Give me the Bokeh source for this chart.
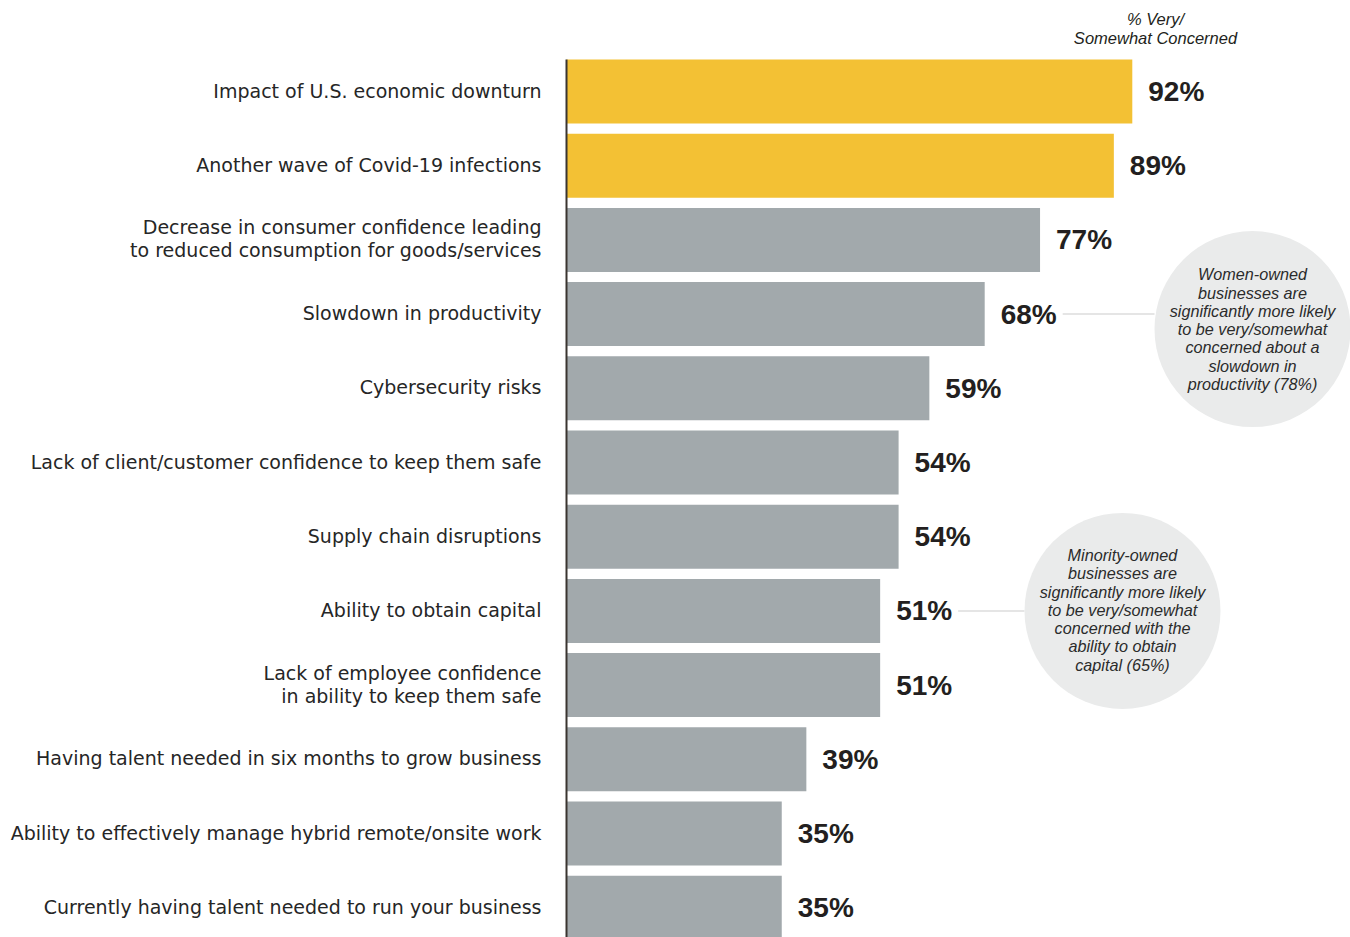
from bokeh.plotting import figure
from bokeh.models import Range1d, ColumnDataSource
from bokeh.core.properties import value
from bokeh.embed import file_html
from bokeh.resources import INLINE

categories = [
    "Impact of U.S. economic downturn",
    "Another wave of Covid-19 infections",
    "Decrease in consumer confidence leading\nto reduced consumption for goods/services",
    "Slowdown in productivity",
    "Cybersecurity risks",
    "Lack of client/customer confidence to keep them safe",
    "Supply chain disruptions",
    "Ability to obtain capital",
    "Lack of employee confidence\nin ability to keep them safe",
    "Having talent needed in six months to grow business",
    "Ability to effectively manage hybrid remote/onsite work",
    "Currently having talent needed to run your business",
]
values = [92, 89, 77, 68, 59, 54, 54, 51, 51, 39, 35, 35]
highlight = [True, True] + [False] * 10
value_labels = [f"{v}%" for v in values]

header = "% Very/\nSomewhat Concerned"
note1 = ("Women-owned\nbusinesses are\nsignificantly more likely\nto be very/somewhat\n"
         "concerned about a\nslowdown in\nproductivity (78%)")
note2 = ("Minority-owned\nbusinesses are\nsignificantly more likely\nto be very/somewhat\n"
         "concerned with the\nability to obtain\ncapital (65%)")
note1_bar = 3
note2_bar = 7

YELLOW = "#F3C134"
GRAY = "#A2A9AC"
TEXT = "#231F20"
CIRCLE = "#EAEBEB"
FONT = "Liberation Sans"
LABEL_FONT = "DejaVu Sans"

W, H = 1350, 937
AXIS_PX = 566
PX = 6.15         # pixels per percentage point
ROW = 74.2        # pixels per row
TOP = 91          # pixel centre of first row

p = figure(width=W, height=H, output_backend="svg", toolbar_location=None,
           min_border=0)
p.x_range = Range1d(-AXIS_PX / PX, (W - AXIS_PX) / PX)
p.y_range = Range1d((H - TOP) / ROW, -TOP / ROW)
p.xaxis.visible = False
p.yaxis.visible = False
p.grid.visible = False
p.outline_line_color = None
p.background_fill_color = "white"
p.border_fill_color = "white"

ys = list(range(len(categories)))
src = ColumnDataSource(dict(
    y=ys, v=values, cat=categories, lab=value_labels,
    color=[YELLOW if h else GRAY for h in highlight],
))

p.hbar(y="y", left=0, right="v", height=64 / ROW, color="color",
       line_color=None, source=src)

# vertical axis line
p.segment(x0=[0], y0=[-32 / ROW], x1=[0], y1=[(H - TOP + 5) / ROW],
          line_color="#3A3530", line_width=2)

# category labels
p.text(x=0, y="y", text="cat", source=src, x_offset=-25, y_offset=-1,
       text_align="right", text_baseline="middle",
       text_font=value(LABEL_FONT), text_font_size="19px", text_color="#262626",
       text_line_height=1.04)

# value labels
p.text(x="v", y="y", text="lab", source=src, x_offset=16, y_offset=0,
       text_align="left", text_baseline="middle",
       text_font=value(FONT), text_font_size="28px", text_font_style="bold",
       text_color=TEXT)

# header
p.text(x=[(1155 - AXIS_PX) / PX], y=[-TOP / ROW], text=[header], y_offset=9,
       text_align="center", text_baseline="top", text_font=value(FONT),
       text_font_size="16.5px", text_font_style="italic", text_color=TEXT,
       text_line_height=1.06)

# annotation 1
c1x = (1252 - AXIS_PX) / PX
c2x = (1122 - AXIS_PX) / PX
R = 98
GAP = 78
p.segment(x0=[values[note1_bar] + GAP / PX], y0=[note1_bar],
          x1=[c1x - R / PX], y1=[note1_bar], line_color="#DDDDDD", line_width=1.5)
p.scatter(x=[c1x], y=[note1_bar + 15 / ROW], size=2 * R, marker="circle",
          fill_color=CIRCLE, line_color=None)
p.text(x=[c1x], y=[note1_bar + 15 / ROW], text=[note1], y_offset=0,
       text_align="center", text_baseline="middle", text_font=value(FONT),
       text_font_size="16.2px", text_font_style="italic", text_color="#2B2B2B",
       text_line_height=1.015)

# annotation 2
p.segment(x0=[values[note2_bar] + GAP / PX], y0=[note2_bar],
          x1=[c2x - R / PX], y1=[note2_bar], line_color="#DDDDDD", line_width=1.5)
p.scatter(x=[c2x], y=[note2_bar], size=2 * R, marker="circle",
          fill_color=CIRCLE, line_color=None)
p.text(x=[c2x], y=[note2_bar], text=[note2], y_offset=-1,
       text_align="center", text_baseline="middle", text_font=value(FONT),
       text_font_size="16.2px", text_font_style="italic", text_color="#2B2B2B",
       text_line_height=1.015)

open("out.html", "w").write(file_html(p, INLINE))
